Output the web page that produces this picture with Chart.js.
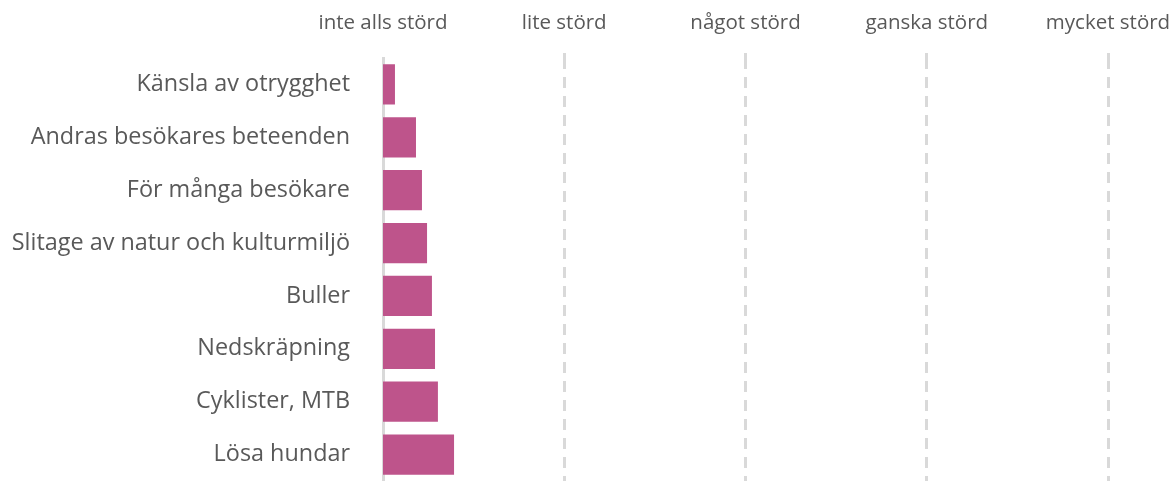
<!DOCTYPE html>
<html>
<head>
<meta charset="utf-8">
<script src="https://cdn.jsdelivr.net/npm/chart.js@4"></script>
<style>
html,body{margin:0;padding:0;background:#fff;}
#wrap{width:1171px;height:481px;}
</style>
</head>
<body>
<div id="wrap"><canvas id="c" width="1171" height="481"></canvas></div>
<script>
const categories = ["Känsla av otrygghet","Andras besökares beteenden","För många besökare","Slitage av natur och kulturmiljö","Buller","Nedskräpning","Cyklister, MTB","Lösa hundar"];
const values = [1.066, 1.182, 1.215, 1.243, 1.270, 1.287, 1.303, 1.392];
const tickLabels = {1:"inte alls störd",2:"lite störd",3:"något störd",4:"ganska störd",5:"mycket störd"};

new Chart(document.getElementById('c'), {
  type: 'bar',
  data: {
    labels: categories,
    datasets: [{
      data: values,
      backgroundColor: '#be548b',
      borderWidth: 0,
      barPercentage: 0.76,
      categoryPercentage: 1.0
    }]
  },
  options: {
    indexAxis: 'y',
    responsive: false,
    animation: false,
    layout: { padding: 0 },
    plugins: { legend: { display: false }, tooltip: { enabled: false } },
    scales: {
      x: {
        type: 'linear',
        position: 'top',
        min: 1, max: 5,
        ticks: {
          stepSize: 1,
          padding: 18,
          color: '#595959',
          font: { family: 'Open Sans', size: 20.5 },
          callback: v => tickLabels[v] || ''
        },
        grid: {
          drawTicks: true,
          tickLength: 5,
          lineWidth: 3,
          color: ctx => ctx.tick && ctx.tick.value === 1 ? 'rgba(0,0,0,0)' : '#d9d9d9'
        },
        border: { display: false, dash: [11, 8] },
        afterFit: s => {
          s.height = 58;
          s.paddingLeft = 0; s.paddingRight = 63; s.paddingTop = 0; s.paddingBottom = 0;
        }
      },
      y: {
        ticks: {
          padding: 33,
          color: '#595959',
          font: { family: 'Open Sans', size: 23.4 }
        },
        grid: { display: false, drawTicks: false },
        border: { display: true, color: '#d9d9d9', width: 3 },
        afterFit: s => {
          s.width = 383;
          s.paddingLeft = 0; s.paddingRight = 0; s.paddingTop = 0; s.paddingBottom = 0;
        }
      }
    }
  }
});
</script>
</body>
</html>
